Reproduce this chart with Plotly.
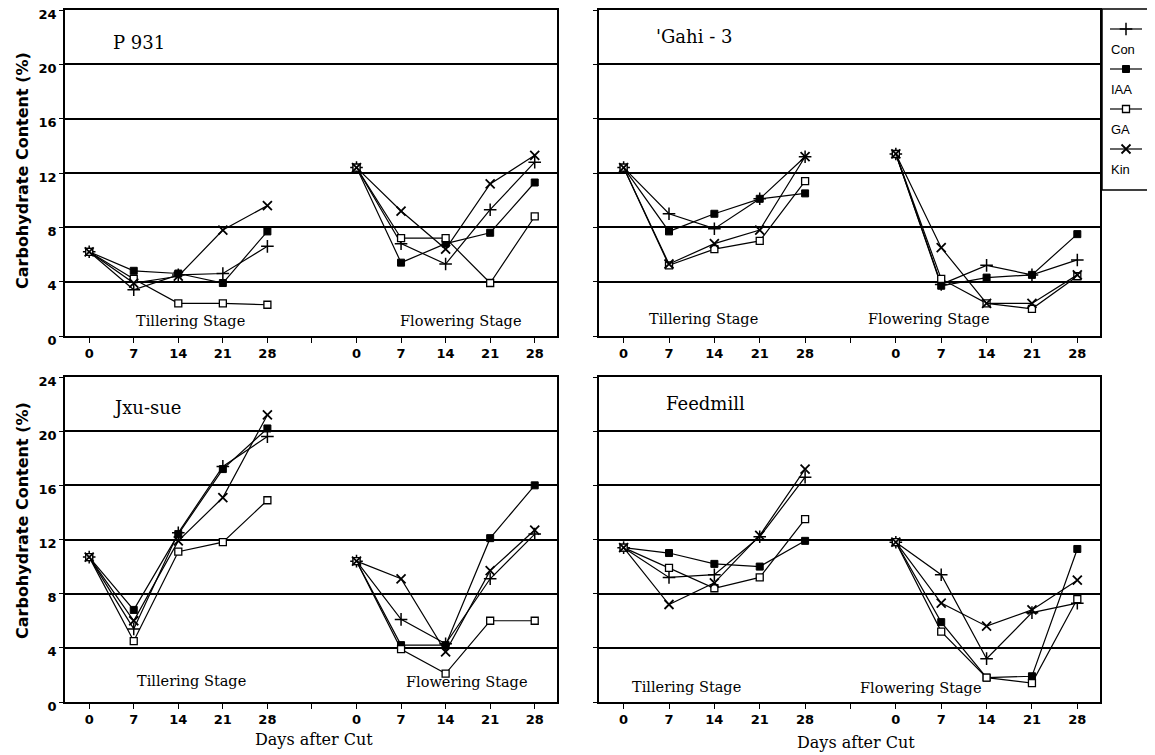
import plotly.graph_objects as go

# The page body adds an 8 px margin, so the figure is drawn 8 px smaller
# and all reference pixel positions are shifted by that offset.
PAGE_W, PAGE_H = 1155, 755
OFF = 8
W, H = PAGE_W - OFF, PAGE_H - OFF

# ---------------- data ----------------
days = [0, 7, 14, 21, 28]
treatments = ["Con", "IAA", "GA", "Kin"]
varieties = ["'Gahi - 3", "P 931", "Jxu-sue", "Feedmill"]
stage_labels = ["Tillering Stage", "Flowering Stage"]
tick_labels = ["0", "7", "14", "21", "28", "", "0", "7", "14", "21", "28"]
y_ticks = [0, 4, 8, 12, 16, 20, 24]

# P 931
p931_con_till = [6.2, 3.4, 4.5, 4.6, 6.6]
p931_iaa_till = [6.2, 4.8, 4.6, 3.9, 7.7]
p931_ga_till = [6.2, 4.2, 2.4, 2.4, 2.3]
p931_kin_till = [6.2, 3.9, 4.4, 7.8, 9.6]
p931_con_flow = [12.4, 6.8, 5.3, 9.3, 12.8]
p931_iaa_flow = [12.4, 5.4, 6.8, 7.6, 11.3]
p931_ga_flow = [12.4, 7.2, 7.2, 3.9, 8.8]
p931_kin_flow = [12.4, 9.2, 6.4, 11.2, 13.3]

# Gahi - 3
gahi_con_till = [12.4, 9.0, 7.9, 10.1, 13.2]
gahi_iaa_till = [12.4, 7.7, 9.0, 10.1, 10.5]
gahi_ga_till = [12.4, 5.2, 6.4, 7.0, 11.4]
gahi_kin_till = [12.4, 5.3, 6.8, 7.8, 13.2]
gahi_con_flow = [13.4, 3.8, 5.2, 4.5, 5.6]
gahi_iaa_flow = [13.4, 3.7, 4.3, 4.5, 7.5]
gahi_ga_flow = [13.4, 4.2, 2.4, 2.0, 4.4]
gahi_kin_flow = [13.4, 6.5, 2.4, 2.4, 4.5]

# Jxu-sue
jxu_con_till = [10.7, 5.4, 12.5, 17.4, 19.6]
jxu_iaa_till = [10.7, 6.8, 12.4, 17.2, 20.2]
jxu_ga_till = [10.7, 4.5, 11.1, 11.8, 14.9]
jxu_kin_till = [10.7, 6.0, 11.9, 15.1, 21.2]
jxu_con_flow = [10.4, 6.1, 4.3, 9.1, 12.4]
jxu_iaa_flow = [10.4, 4.2, 4.2, 12.1, 16.0]
jxu_ga_flow = [10.4, 3.9, 2.1, 6.0, 6.0]
jxu_kin_flow = [10.4, 9.1, 3.7, 9.7, 12.7]

# Feedmill
feed_con_till = [11.4, 9.2, 9.4, 12.2, 16.6]
feed_iaa_till = [11.4, 11.0, 10.2, 10.0, 11.9]
feed_ga_till = [11.4, 9.9, 8.4, 9.2, 13.5]
feed_kin_till = [11.4, 7.2, 8.8, 12.3, 17.2]
feed_con_flow = [11.8, 9.4, 3.2, 6.6, 7.3]
feed_iaa_flow = [11.8, 5.9, 1.8, 1.9, 11.3]
feed_ga_flow = [11.8, 5.2, 1.8, 1.4, 7.6]
feed_kin_flow = [11.8, 7.3, 5.6, 6.8, 9.0]

# ---------------- layout helpers ----------------
FLOWER_OFFSET = 42  # position of the flowering-stage day 0 on the shared axis


def px_x(v):
    return min(1.0, max(0.0, (v - OFF) / W))


def px_y(v):
    return min(1.0, max(0.0, 1 - (v - OFF) / H))


x_left = [px_x(65), px_x(557)]
x_right = [px_x(599), px_x(1100)]
y_top = [px_y(336), px_y(10)]
y_bot = [px_y(702), px_y(377)]

panels = [
    ("x", "y", x_left, y_top, True,
     [(p931_con_till, p931_con_flow), (p931_iaa_till, p931_iaa_flow),
      (p931_ga_till, p931_ga_flow), (p931_kin_till, p931_kin_flow)]),
    ("x2", "y2", x_right, y_top, False,
     [(gahi_con_till, gahi_con_flow), (gahi_iaa_till, gahi_iaa_flow),
      (gahi_ga_till, gahi_ga_flow), (gahi_kin_till, gahi_kin_flow)]),
    ("x3", "y3", x_left, y_bot, True,
     [(jxu_con_till, jxu_con_flow), (jxu_iaa_till, jxu_iaa_flow),
      (jxu_ga_till, jxu_ga_flow), (jxu_kin_till, jxu_kin_flow)]),
    ("x4", "y4", x_right, y_bot, False,
     [(feed_con_till, feed_con_flow), (feed_iaa_till, feed_iaa_flow),
      (feed_ga_till, feed_ga_flow), (feed_kin_till, feed_kin_flow)]),
]

marker_styles = {
    "Con": dict(symbol="cross-thin-open", size=9, color="black",
                line=dict(color="black", width=1.5)),
    "IAA": dict(symbol="square", size=7, color="black",
                line=dict(color="black", width=1)),
    "GA": dict(symbol="square", size=7, color="white",
               line=dict(color="black", width=1.3)),
    "Kin": dict(symbol="x-thin-open", size=9, color="black",
                line=dict(color="black", width=1.8)),
}

fig = go.Figure()

for xa, ya, xd, yd, left, series in panels:
    for name, (till, flow) in zip(treatments, series):
        xs = list(days) + [None] + [d + FLOWER_OFFSET for d in days]
        ys = list(till) + [None] + list(flow)
        fig.add_trace(go.Scatter(
            x=xs, y=ys, mode="lines+markers", name=name,
            xaxis=xa, yaxis=ya, showlegend=False,
            line=dict(color="black", width=1.2),
            marker=marker_styles[name], connectgaps=False,
            hoverinfo="x+y+name",
        ))

tick_font = dict(family="DejaVu Sans", size=13, color="black", weight="bold")
x_tickvals = [i * 7 for i in range(len(tick_labels))]

layout_axes = {}
for i, (xa, ya, xd, yd, left, series) in enumerate(panels):
    xk = "xaxis" if i == 0 else f"xaxis{i + 1}"
    yk = "yaxis" if i == 0 else f"yaxis{i + 1}"
    layout_axes[xk] = dict(
        domain=xd, anchor=ya, range=[-3.8, 73.5],
        tickmode="array", tickvals=x_tickvals, ticktext=tick_labels,
        ticks="outside", ticklen=5, tickwidth=1.3, tickcolor="black",
        showline=True, linecolor="black", linewidth=1.5, mirror=True,
        showgrid=False, zeroline=False, tickfont=tick_font, automargin=False,
    )
    layout_axes[yk] = dict(
        domain=yd, anchor=xa, range=[0, 24],
        tickmode="array", tickvals=y_ticks,
        ticks="outside", ticklen=4, tickwidth=1.3, tickcolor="black",
        showticklabels=left, ticklabeloverflow="allow", ticklabelshift=4,
        showline=True, linecolor="black", linewidth=1.5, mirror=True,
        showgrid=True, gridcolor="black", gridwidth=1.5, zeroline=False,
        tickfont=tick_font, automargin=False,
    )

# legend axes (glyph box at top right); axis units are reference pixels
LEG_L, LEG_R, LEG_T, LEG_B = 1102, 1150, 9, 190
layout_axes["xaxis5"] = dict(domain=[px_x(LEG_L), px_x(LEG_R)], anchor="y5",
                             range=[LEG_L, LEG_R], visible=False)
layout_axes["yaxis5"] = dict(domain=[px_y(LEG_B), px_y(LEG_T)], anchor="x5",
                             range=[LEG_B, LEG_T], visible=False)

LEG_LINE_Y0, LEG_STEP = 29, 40
LEG_X0, LEG_XM, LEG_X1 = 1110, 1126, 1142
annotations = []
for i, name in enumerate(treatments):
    gy = LEG_LINE_Y0 + i * LEG_STEP
    fig.add_trace(go.Scatter(
        x=[LEG_X0, LEG_X1], y=[gy, gy], mode="lines",
        xaxis="x5", yaxis="y5", showlegend=False, hoverinfo="skip",
        line=dict(color="black", width=1.2),
    ))
    fig.add_trace(go.Scatter(
        x=[LEG_XM], y=[gy], mode="markers", name=name,
        xaxis="x5", yaxis="y5", showlegend=False, hoverinfo="name",
        marker=marker_styles[name],
    ))
    annotations.append(dict(
        text=name, xref="paper", yref="paper",
        x=px_x(LEG_X0 - 1), y=px_y(gy + 20),
        xanchor="left", yanchor="middle", showarrow=False,
        font=dict(family="Liberation Sans", size=13, color="black"),
    ))

serif = "DejaVu Serif"
title_pos = [(654, 36), (111, 42), (111, 407), (664, 403)]
for (tx, ty), t in zip(title_pos, varieties):
    annotations.append(dict(
        text=t, xref="paper", yref="paper", x=px_x(tx), y=px_y(ty),
        xanchor="left", yanchor="middle", showarrow=False,
        font=dict(family=serif, size=18, color="black"),
    ))

stage_pos = [
    [(134, 321), (398, 321)],
    [(647, 319), (866, 319)],
    [(135, 681), (404, 682)],
    [(630, 687), (858, 688)],
]
for row in stage_pos:
    for (sx, sy), s in zip(row, stage_labels):
        annotations.append(dict(
            text=s, xref="paper", yref="paper", x=px_x(sx), y=px_y(sy),
            xanchor="left", yanchor="middle", showarrow=False,
            font=dict(family=serif, size=14.5, color="black"),
        ))

for cx, cy in [(314, 739), (856, 742)]:
    annotations.append(dict(
        text="Days after Cut", xref="paper", yref="paper",
        x=px_x(cx), y=px_y(cy), xanchor="center", yanchor="middle",
        showarrow=False, font=dict(family=serif, size=16, color="black"),
    ))

for cy in [171, 521]:
    annotations.append(dict(
        text="Carbohydrate Content (%)", xref="paper", yref="paper",
        x=px_x(22), y=px_y(cy), xanchor="center", yanchor="middle",
        textangle=-90, showarrow=False,
        font=dict(family="DejaVu Sans", size=16, color="black", weight="bold"),
    ))

fig.update_layout(
    width=W, height=H, autosize=False,
    margin=dict(l=0, r=0, t=0, b=0),
    paper_bgcolor="white", plot_bgcolor="white",
    annotations=annotations,
    shapes=[dict(type="rect", xref="paper", yref="paper",
                 x0=px_x(LEG_L), x1=px_x(LEG_R), y0=px_y(LEG_B), y1=px_y(LEG_T),
                 line=dict(color="black", width=1.5))],
    **layout_axes,
)

fig.write_html("out.html")
